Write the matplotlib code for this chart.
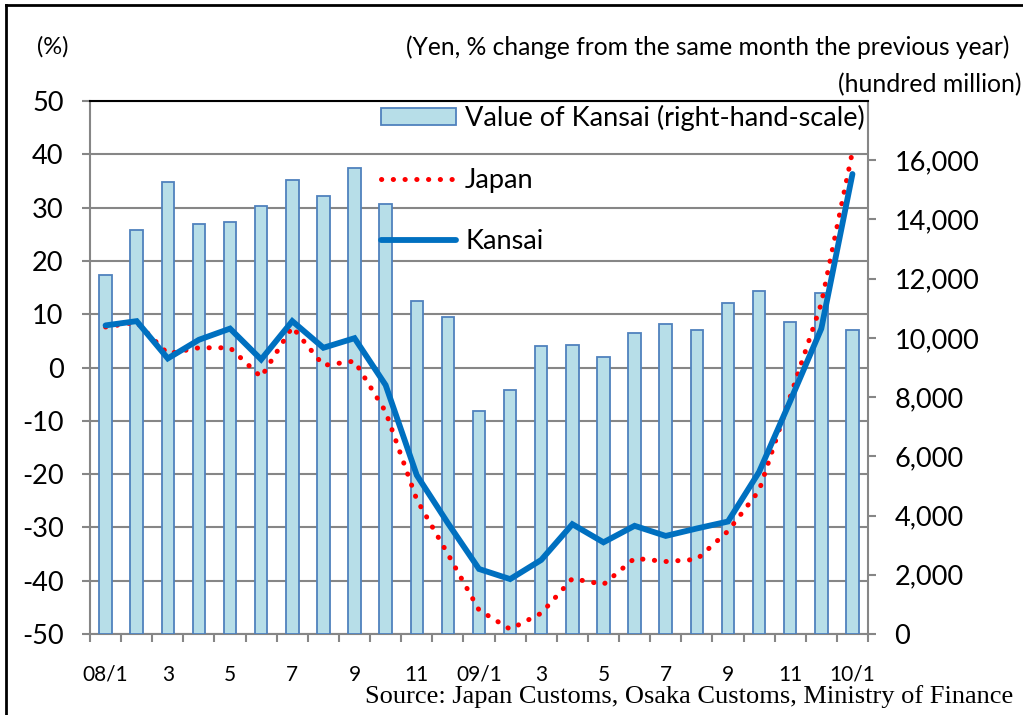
import matplotlib
matplotlib.use("Agg")
import matplotlib.pyplot as plt
from matplotlib.lines import Line2D
from matplotlib.patches import Patch
import numpy as np

# ---- data ----
months = ['08/1', '2', '3', '4', '5', '6', '7', '8', '9', '10', '11', '12',
          '09/1', '2', '3', '4', '5', '6', '7', '8', '9', '10', '11', '12', '10/1']
tick_labels = ['08/1', '', '3', '', '5', '', '7', '', '9', '', '11', '',
               '09/1', '', '3', '', '5', '', '7', '', '9', '', '11', '', '10/1']
value_kansai = [12110, 13660, 15250, 13840, 13915, 14455, 15325, 14775, 15740, 14515,
                11260, 10700, 7515, 8225, 9720, 9770, 9350, 10160, 10480, 10280,
                11180, 11580, 10535, 11515, 10280]
japan = [7.6, 8.5, 2.6, 3.7, 3.7, -1.8, 7.6, 0.4, 1.2, -8.3, -24.8, -35.0, -45.5,
         -49.1, -46.1, -39.6, -40.7, -35.8, -36.4, -36.0, -30.7, -23.1, -5.5, 12.0, 40.5]
kansai = [7.9, 8.7, 1.7, 5.2, 7.3, 1.5, 8.7, 3.7, 5.5, -3.3, -20.2, -29.2, -37.8,
          -39.7, -36.1, -29.4, -32.8, -29.7, -31.6, -30.2, -28.9, -19.6, -6.3, 7.3, 36.3]
left_ticks = [50, 40, 30, 20, 10, 0, -10, -20, -30, -40, -50]
right_ticks = [0, 2000, 4000, 6000, 8000, 10000, 12000, 14000, 16000]

plt.rcParams['font.family'] = ['Lato', 'DejaVu Sans']

W, H = 1023, 715
fig = plt.figure(figsize=(W / 100, H / 100), dpi=100)
fig.patch.set_facecolor('white')

L, R, B, T = 90 / W, 868 / W, 1 - 634 / H, 1 - 101 / H
ax = fig.add_axes([L, B, R - L, T - B])
ax2 = ax.twinx()
ax3 = ax.twinx()

x = np.arange(len(months))
n = len(months)
grid_c = '#868686'
jap_style = (0, (0.05, 2.3))

# gridlines + left axis
ax.set_xlim(-0.5, n - 0.5)
ax.set_ylim(-50, 50)
ax.set_yticks(left_ticks)
ax.set_yticklabels([str(v) for v in left_ticks], fontsize=19.5)
ax.yaxis.grid(True, color=grid_c, linewidth=1.5)
ax.set_axisbelow(True)
ax.tick_params(axis='y', direction='out', length=6, width=1.5, color=grid_c, pad=13)
ax.set_xticks(x)
ax.set_xticklabels(tick_labels, fontsize=15)
ax.set_xticks(np.arange(n + 1) - 0.5, minor=True)
ax.tick_params(axis='x', which='major', length=0, pad=22)
ax.tick_params(axis='x', which='minor', direction='out', length=6, width=1.5, color=grid_c)
for s in ['left', 'bottom', 'right']:
    ax.spines[s].set_color(grid_c)
    ax.spines[s].set_linewidth(1.5)
ax.spines['top'].set_color('black')
ax.spines['top'].set_linewidth(1.5)

# bars on right axis
ax2.bar(x, value_kansai, width=0.4, color='#B7DEE8', edgecolor='#4F81BD',
        linewidth=1.3, label='Value of Kansai (right-hand-scale)')
ax2.set_ylim(0, 18000)
ax2.set_yticks(right_ticks)
ax2.set_yticklabels([f'{v:,}' for v in right_ticks], fontsize=19.5)
ax2.tick_params(axis='y', direction='out', length=6, width=1.5, color=grid_c, pad=13)
for s in ax2.spines.values():
    s.set_visible(False)
ax2.patch.set_visible(False)

# lines on left scale
ax3.set_ylim(-50, 50)
ax3.plot(x, japan, color='#FF0000', linewidth=3.6, linestyle=jap_style,
         dash_capstyle='round', label='Japan')
ax3.plot(x, kansai, color='#0070C0', linewidth=4.2, solid_capstyle='round',
         solid_joinstyle='miter', label='Kansai')
ax3.set_yticks([])
for s in ax3.spines.values():
    s.set_visible(False)
ax3.patch.set_visible(False)

handles = [Patch(facecolor='#B7DEE8', edgecolor='#4F81BD', linewidth=1.3),
           Line2D([], [], color='#FF0000', linewidth=3.6, linestyle=jap_style,
                  dash_capstyle='round'),
           Line2D([], [], color='#0070C0', linewidth=4.2, solid_capstyle='round')]
labels = ['Value of Kansai (right-hand-scale)', 'Japan', 'Kansai']
leg = ax3.legend(handles, labels, loc='upper left', bbox_to_anchor=(377 / W, 1 - 101 / H),
                 bbox_transform=fig.transFigure, frameon=False, fontsize=19.5,
                 handlelength=2.77, handleheight=0.62, handletextpad=0.33,
                 labelspacing=1.35, borderpad=0.15, borderaxespad=0)

# header texts
fig.text(37 / W, 1 - 47 / H, '(%)', fontsize=17, ha='left', va='center')
fig.text(1009 / W, 1 - 47 / H, '(Yen, % change from the same month the previous year)',
         fontsize=17.7, ha='right', va='center')
fig.text(1021 / W, 1 - 85 / H, '(hundred million)', fontsize=17.8, ha='right', va='center')
fig.text(1013 / W, 1 - 697 / H, 'Source: Japan Customs, Osaka Customs, Ministry of Finance',
         fontsize=19, ha='right', va='center', family=['Liberation Serif', 'DejaVu Serif'])

# outer frame (cropped on right and bottom)
fig.add_artist(Line2D([6 / W, 6 / W], [1 - 5 / H, -0.05], color='black', linewidth=2,
                      transform=fig.transFigure))
fig.add_artist(Line2D([6 / W, 1.05], [1 - 5 / H, 1 - 5 / H], color='black', linewidth=2,
                      transform=fig.transFigure))

fig.savefig('out.png', dpi=100, facecolor='white')
